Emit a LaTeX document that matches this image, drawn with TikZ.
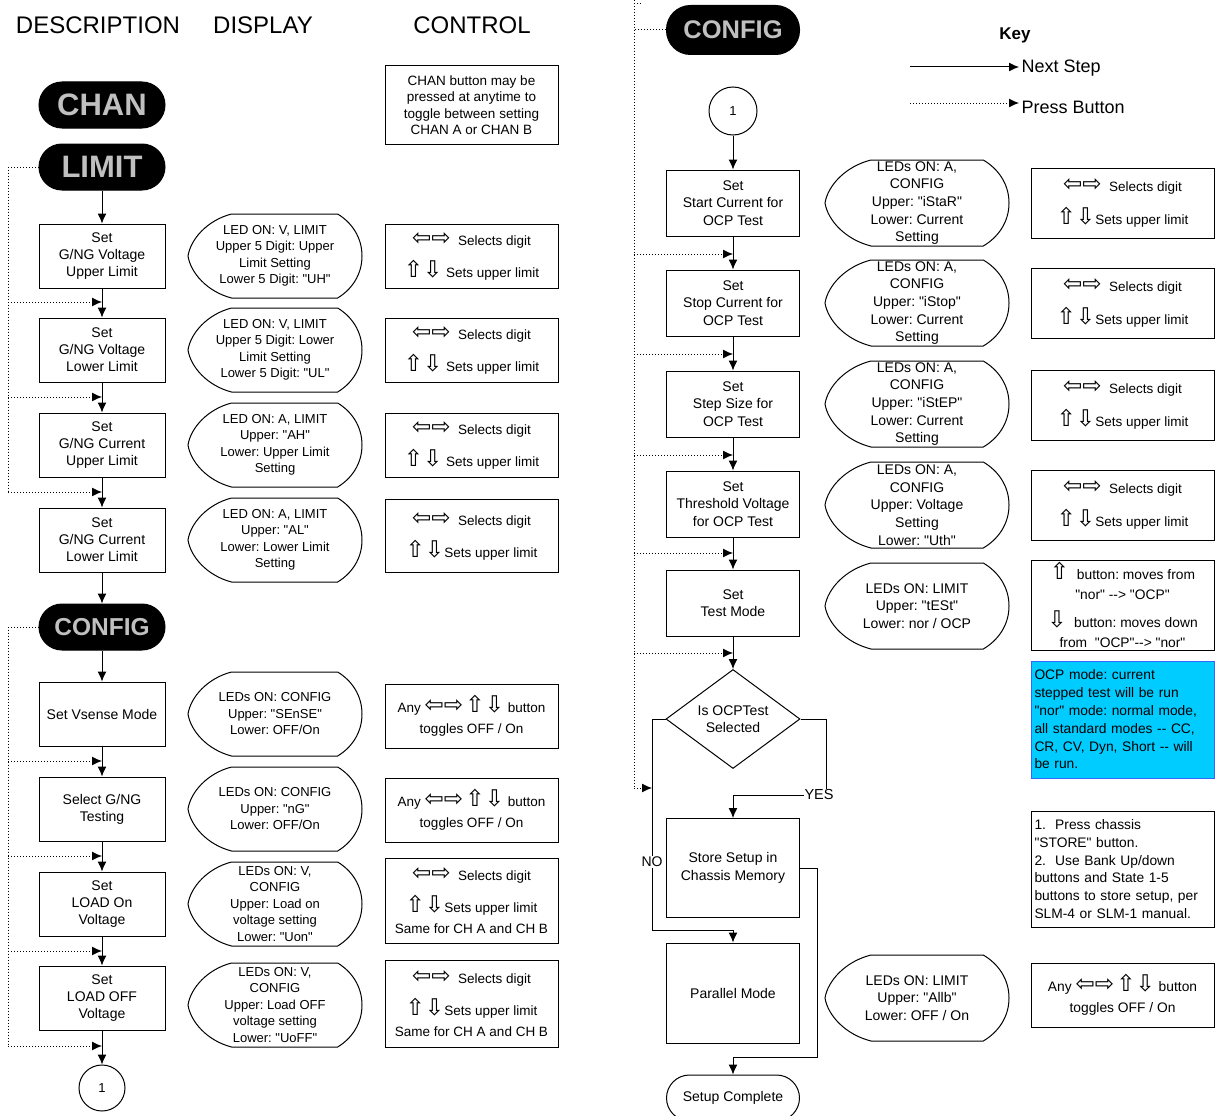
\documentclass[tikz,border=0pt]{standalone}
\usepackage{fontspec}
\usetikzlibrary{arrows.meta,shapes.geometric}
\newfontfamily\arial{Liberation Sans}
\newfontfamily\dv{DejaVu Sans}
\definecolor{pillgray}{RGB}{192,192,192}
\definecolor{notefill}{RGB}{0,204,255}
\definecolor{noteline}{RGB}{51,102,255}
\newcommand\LRa{{\dv\fontsize{23}{19}\selectfont ⇦⇨}}
\newcommand\UDa{{\dv\fontsize{23}{19}\selectfont ⇧⇩}}
\newcommand\Ua{{\dv\fontsize{23}{19}\selectfont ⇧}}
\newcommand\Da{{\dv\fontsize{23}{19}\selectfont ⇩}}
\newcommand\dispshape[3]{%
  \draw[shift={(#1.center)}] (-0.5*#2,-#3) -- (0.72*#2,-#3)
    .. controls (0.88*#2,-0.8*#3) and (#2,-0.45*#3) .. (#2,0)
    .. controls (#2,0.45*#3) and (0.88*#2,0.8*#3) .. (0.72*#2,#3)
    -- (-0.5*#2,#3)
    .. controls (-0.78*#2,0.85*#3) and (-0.97*#2,0.4*#3) .. (-#2,0)
    .. controls (-0.97*#2,-0.4*#3) and (-0.78*#2,-0.85*#3) .. (-0.5*#2,-#3) -- cycle;}
\begin{document}
\frenchspacing
\begin{tikzpicture}[x=1pt,y=-1pt,line width=1pt,
  every node/.style={font=\arial\fontsize{14}{17}\selectfont},
  >={Latex[length=10pt,width=9pt]},
  stepbox/.style={draw,minimum width=126,minimum height=64,align=center,inner sep=2},
  rbox/.style={draw,minimum width=133,minimum height=66,align=center,inner sep=2,font=\arial\fontsize{14}{17.5}\selectfont},
  pill/.style={draw,fill=black,rounded corners=23,minimum width=126,minimum height=46,inner sep=0,text=pillgray,font=\arial\bfseries\fontsize{31}{31}\selectfont},
  disp/.style={align=center,inner sep=0,font=\arial\fontsize{13}{16.5}\selectfont},
  rdisp/.style={align=center,inner sep=0,font=\arial\fontsize{14}{17.7}\selectfont},
  ctl/.style={draw,minimum width=173,align=center,inner sep=2,font=\arial\fontsize{13.5}{32}\selectfont},
  rctl/.style={draw,minimum width=183,align=center,inner sep=2,font=\arial\fontsize{13.5}{33}\selectfont},
  flow/.style={->},
  press/.style={dotted,->},
  hdr/.style={font=\arial\fontsize{24}{24}\selectfont},
  conn/.style={draw,circle,minimum size=46,inner sep=0,font=\arial\fontsize{13}{13}\selectfont},
  lbl/.style={fill=white,inner sep=1,font=\arial\fontsize{14.5}{15}\selectfont}]
\fill[white] (0,0) rectangle (1216,1116);
\useasboundingbox (0,0) rectangle (1216,1116);
% headers
\node[hdr] (h1) at (98,25) {DESCRIPTION};
\node[hdr] (h2) at (263,25) {DISPLAY};
\node[hdr] (h3) at (472,25) {CONTROL};
% left flow
\node[pill] (chan) at (102,105) {CHAN};
\node[pill] (limit) at (102,167) {LIMIT};
\node[stepbox] (b1) at (102,256) {Set\\G/NG Voltage\\Upper Limit};
\node[stepbox] (b2) at (102,350) {Set\\G/NG Voltage\\Lower Limit};
\node[stepbox] (b3) at (102,445) {Set\\G/NG Current\\Upper Limit};
\node[stepbox] (b4) at (102,540) {Set\\G/NG Current\\Lower Limit};
\node[pill,font=\arial\bfseries\fontsize{24.5}{25}\selectfont] (cfgL) at (102,627) {CONFIG};
\node[stepbox] (b5) at (102,714) {Set Vsense Mode};
\node[stepbox] (b6) at (102,809) {Select G/NG\\Testing};
\node[stepbox] (b7) at (102,904) {Set\\LOAD On\\Voltage};
\node[stepbox] (b8) at (102,998) {Set\\LOAD OFF\\Voltage};
\node[conn] (oneL) at (102,1088) {1};
\foreach \a/\b in {limit/b1,b1/b2,b2/b3,b3/b4,b4/cfgL,cfgL/b5,b5/b6,b6/b7,b7/b8,b8/oneL}
  \draw[flow] (\a) -- (\b);
\coordinate (LA) at (8,492);
\coordinate (LB) at (8,1046);
\draw[dotted] (limit.west) -| (LA);
\draw[dotted] (cfgL.west) -| (LB);
\foreach \y in {302,397,492,761,856,951,1046}
  \draw[press] (8,\y) -- (102,\y);
% left displays
\node[disp] (d1) at (275,256) {LED ON: V, LIMIT\\Upper 5 Digit: Upper\\Limit Setting\\Lower 5 Digit: "UH"};
\node[disp] (d2) at (275,350) {LED ON: V, LIMIT\\Upper 5 Digit: Lower\\Limit Setting\\Lower 5 Digit: "UL"};
\node[disp] (d3) at (275,445) {LED ON: A, LIMIT\\Upper: "AH"\\Lower: Upper Limit\\Setting};
\node[disp] (d4) at (275,540) {LED ON: A, LIMIT\\Upper: "AL"\\Lower: Lower Limit\\Setting};
\node[disp] (d5) at (275,714) {LEDs ON: CONFIG\\Upper: "SEnSE"\\Lower: OFF/On};
\node[disp] (d6) at (275,809) {LEDs ON: CONFIG\\Upper: "nG"\\Lower: OFF/On};
\node[disp] (d7) at (275,904) {LEDs ON: V,\\CONFIG\\Upper: Load on\\voltage setting\\Lower: "Uon"};
\node[disp] (d8) at (275,1005) {LEDs ON: V,\\CONFIG\\Upper: Load OFF\\voltage setting\\Lower: "UoFF"};
\foreach \n in {d1,d2,d3,d4,d5,d6,d7,d8} \dispshape{\n}{87}{42};
% left controls
\node[ctl,minimum height=79,font=\arial\fontsize{13.5}{16.5}\selectfont] (c0) at (471.5,105) {CHAN button may be\\pressed at anytime to\\toggle between setting\\CHAN A or CHAN B};
\node[ctl,minimum height=64] (c1) at (471.5,256) {\LRa\ \ Selects digit\\\UDa\ Sets upper limit};
\node[ctl,minimum height=64] (c2) at (471.5,350) {\LRa\ \ Selects digit\\\UDa\ Sets upper limit};
\node[ctl,minimum height=64] (c3) at (471.5,445) {\LRa\ \ Selects digit\\\UDa\ Sets upper limit};
\node[ctl,minimum height=73] (c4) at (471.5,536) {\LRa\ \ Selects digit\\\UDa Sets upper limit};
\node[ctl,minimum height=64,font=\arial\fontsize{13.5}{21}\selectfont] (c5) at (471.5,716) {Any \LRa\,\UDa\ button\\toggles OFF / On};
\node[ctl,minimum height=64,font=\arial\fontsize{13.5}{21}\selectfont] (c6) at (471.5,810) {Any \LRa\,\UDa\ button\\toggles OFF / On};
\node[ctl,minimum height=85] (c7) at (471.5,901) {\LRa\ \ Selects digit\\\UDa Sets upper limit\\[-11pt]Same for CH A and CH B};
\node[ctl,minimum height=87] (c8) at (471.5,1004) {\LRa\ \ Selects digit\\\UDa Sets upper limit\\[-11pt]Same for CH A and CH B};
% right flow
\node[pill,minimum width=133,minimum height=49,rounded corners=24,font=\arial\bfseries\fontsize{25.5}{26}\selectfont] (cfgR) at (733,30) {CONFIG};
\node[conn,minimum size=48] (oneR) at (733,111) {1};
\node[rbox] (r1) at (733,203) {Set\\Start Current for\\OCP Test};
\node[rbox] (r2) at (733,303) {Set\\Stop Current for\\OCP Test};
\node[rbox] (r3) at (733,404) {Set\\Step Size for\\OCP Test};
\node[rbox] (r4) at (733,504) {Set\\Threshold Voltage\\for OCP Test};
\node[rbox] (r5) at (733,603) {Set\\Test Mode};
\node[draw,diamond,minimum width=134,minimum height=99,inner sep=0,align=center,font=\arial\fontsize{14}{17.5}\selectfont] (dia) at (733,719) {Is OCPTest\\Selected};
\node[rbox,minimum height=99] (store) at (733,868) {Store Setup in\\Chassis Memory};
\node[rbox,minimum height=100] (par) at (733,993) {Parallel Mode};
\node[draw,rounded corners=23,minimum width=133,minimum height=46,inner sep=0] (done) at (733,1098) {Setup Complete};
\foreach \a/\b in {oneR/r1,r1/r2,r2/r3,r3/r4,r4/r5,r5/dia}
  \draw[flow] (\a) -- (\b);
\coordinate (yc) at (826,795);
\coordinate (nc) at (652,930);
\coordinate (sc) at (817,1057);
\draw[flow] (dia.east) -| (yc) -| (store.north);
\draw[flow] (dia.west) -| (nc) -| (par.north);
\draw[flow] (store.east) -| (sc) -| (done.north);
\node[lbl] (yes) at (819,795) {YES};
\node[lbl,font=\arial\fontsize{14}{15}\selectfont] (no) at (652,862) {NO};
\coordinate (RA) at (634,0);
\coordinate (RB) at (634,788);
\draw[dotted] (RA) -- (RB);
\draw[dotted] (cfgR.west) -- (634,30);
\draw[dotted] (634,4) -- (642,4);
\foreach \y in {254,354,455,553,653}
  \draw[press] (634,\y) -- (733,\y);
\draw[press] (RB) -- (nc |- RB);
% right displays
\node[rdisp] (e1) at (917,203) {LEDs ON: A,\\CONFIG\\Upper: "iStaR"\\Lower: Current\\Setting};
\node[rdisp] (e2) at (917,303) {LEDs ON: A,\\CONFIG\\Upper: "iStop"\\Lower: Current\\Setting};
\node[rdisp] (e3) at (917,404) {LEDs ON: A,\\CONFIG\\Upper: "iStEP"\\Lower: Current\\Setting};
\node[rdisp] (e4) at (917,505) {LEDs ON: A,\\CONFIG\\Upper: Voltage\\Setting\\Lower: "Uth"};
\node[rdisp] (e5) at (917,606) {LEDs ON: LIMIT\\Upper: "tESt"\\Lower: nor / OCP};
\node[rdisp] (e6) at (917,998) {LEDs ON: LIMIT\\Upper: "Allb"\\Lower: OFF / On};
\foreach \n in {e1,e2,e3,e4,e5,e6} \dispshape{\n}{92}{43};
% right controls
\node[rctl,minimum height=70] (k1) at (1122.5,203) {\LRa\ \ Selects digit\\\UDa Sets upper limit};
\node[rctl,minimum height=70] (k2) at (1122.5,303) {\LRa\ \ Selects digit\\\UDa Sets upper limit};
\node[rctl,minimum height=70] (k3) at (1122.5,405) {\LRa\ \ Selects digit\\\UDa Sets upper limit};
\node[rctl,minimum height=70] (k4) at (1122.5,505) {\LRa\ \ Selects digit\\\UDa Sets upper limit};
\node[rctl,minimum height=90,font=\arial\fontsize{13.8}{20}\selectfont] (k5) at (1122.5,605) {\Ua\ \ button: moves from\\"nor" --> "OCP"\\[8pt]\Da\ \ button: moves down\\from \ "OCP"--> "nor"};
\node[draw=noteline,fill=notefill,minimum width=183,minimum height=117,text width=176,align=left,inner sep=3,font=\arial\fontsize{13.8}{17.8}\selectfont] (blue) at (1122.5,719.5) {OCP mode: current\\stepped test will be run\\"nor" mode: normal mode,\\all standard modes -- CC,\\CR, CV, Dyn, Short -- will\\be run.};
\node[draw,minimum width=183,minimum height=116,text width=176,align=left,inner sep=3,font=\arial\fontsize{13.8}{17.8}\selectfont] (note) at (1122.5,869) {1.\ \ Press chassis\\"STORE" button.\\2.\ \ Use Bank Up/down\\buttons and State 1-5\\buttons to store setup, per\\SLM-4 or SLM-1 manual.};
\node[rctl,minimum height=64,font=\arial\fontsize{13.8}{21}\selectfont] (k6) at (1122.5,995) {Any \LRa\,\UDa\ button\\toggles OFF / On};
% key
\node[font=\arial\bfseries\fontsize{17}{17}\selectfont] (key) at (1015,35) {Key};
\coordinate (ka) at (910,67);
\coordinate (kb) at (1019,67);
\coordinate (kc) at (910,103);
\coordinate (kd) at (1019,103);
\draw[flow] (ka) -- (kb);
\draw[press] (kc) -- (kd);
\node[anchor=west,inner sep=0,font=\arial\fontsize{18}{18}\selectfont] (ns) at (1021,68) {Next Step};
\node[anchor=west,inner sep=0,font=\arial\fontsize{18}{18}\selectfont] (pb) at (1021,107) {Press Button};
\end{tikzpicture}
\end{document}
